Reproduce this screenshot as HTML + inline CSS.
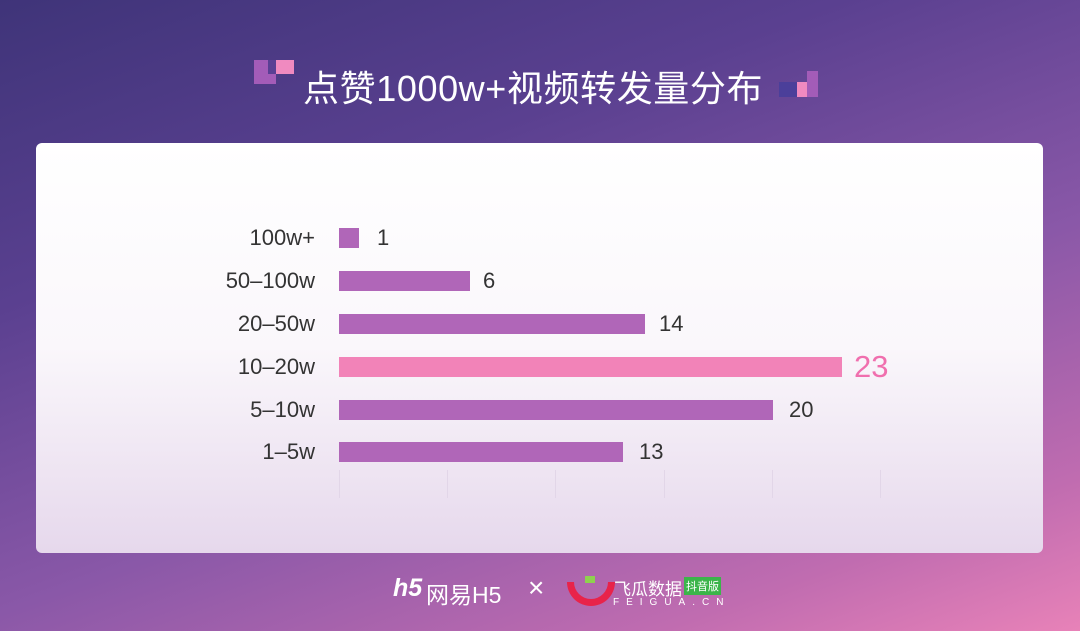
<!DOCTYPE html>
<html><head><meta charset="utf-8"><style>
body{margin:0;width:1080px;height:631px;overflow:hidden;font-family:"Liberation Sans","Noto Sans CJK SC",sans-serif;}
.bg{position:absolute;left:0;top:0;width:1080px;height:631px;background:linear-gradient(160deg,#3f3479 0%,#5a4090 30%,#8a58a8 60%,#c06cb0 85%,#e882b8 100%);}
.card{position:absolute;left:36px;top:143px;width:1007px;height:410px;border-radius:6px;background:linear-gradient(180deg,#ffffff 0%,#faf7fb 50%,#e6d8ec 100%);}
.t{position:absolute;color:#fff;font-size:36px;top:60px;left:303px;white-space:nowrap;letter-spacing:0.6px;}
.lab{position:absolute;right:765px;font-size:22px;color:#333;width:150px;text-align:right;}
.bar{position:absolute;left:339px;height:20px;background:#b066b8;}
.v{position:absolute;font-size:22px;color:#333;}
.g{position:absolute;top:470px;width:1px;height:28px;background:#e2d6e8;}
.sq{position:absolute;}
</style></head><body>
<div class="bg"></div>
<div class="sq" style="left:254px;top:60px;width:22px;height:24px;background:#a35cb8"></div>
<div class="sq" style="left:268px;top:60px;width:8px;height:14px;background:#5a3f94"></div>
<div class="sq" style="left:276px;top:60px;width:18px;height:14px;background:#f08ac0"></div>
<div class="t">点赞1000w+视频转发量分布</div>
<div class="sq" style="left:779px;top:82px;width:18px;height:15px;background:#4b3f9a"></div>
<div class="sq" style="left:797px;top:82px;width:10px;height:15px;background:#f08ac0"></div>
<div class="sq" style="left:807px;top:71px;width:11px;height:26px;background:#a35cb8"></div>
<div class="card"></div>
<div class="g" style="left:339px"></div><div class="g" style="left:447px"></div><div class="g" style="left:555px"></div><div class="g" style="left:664px"></div><div class="g" style="left:772px"></div><div class="g" style="left:880px"></div>
<div class="lab" style="top:225px">100w+</div><div class="bar" style="top:228px;width:20px"></div><div class="v" style="left:377px;top:225px">1</div>
<div class="lab" style="top:268px">50–100w</div><div class="bar" style="top:271px;width:131px"></div><div class="v" style="left:483px;top:268px">6</div>
<div class="lab" style="top:311px">20–50w</div><div class="bar" style="top:314px;width:306px"></div><div class="v" style="left:659px;top:311px">14</div>
<div class="lab" style="top:354px">10–20w</div><div class="bar" style="top:357px;width:503px;background:#f283b8"></div><div class="v" style="left:854px;top:349px;font-size:31px;color:#f06fae">23</div>
<div class="lab" style="top:397px">5–10w</div><div class="bar" style="top:400px;width:434px"></div><div class="v" style="left:789px;top:397px">20</div>
<div class="lab" style="top:439px">1–5w</div><div class="bar" style="top:442px;width:284px"></div><div class="v" style="left:639px;top:439px">13</div>
<div style="position:absolute;left:393px;top:574px;color:#fff;font-size:25px;font-style:italic;font-weight:bold">h5</div>
<div style="position:absolute;left:426px;top:576px;color:#fff;font-size:23px">网易H5</div>
<div style="position:absolute;left:528px;top:572px;color:#fff;font-size:28px">×</div>
<div style="position:absolute;left:567px;top:582px;width:34px;height:17px;border:7px solid #e8234a;border-top:none;border-radius:0 0 24px 24px"></div>
<div style="position:absolute;left:585px;top:576px;width:10px;height:7px;background:#8fd14f"></div>
<div style="position:absolute;left:614px;top:575px;color:#fff;font-size:17px">飞瓜数据</div>
<div style="position:absolute;left:684px;top:577px;background:#3bb54a;color:#fff;font-size:11px;padding:1px 2px">抖音版</div>
<div style="position:absolute;left:613px;top:597px;color:#fff;font-size:10px;letter-spacing:7px">FEIGUA.CN</div>
</body></html>
